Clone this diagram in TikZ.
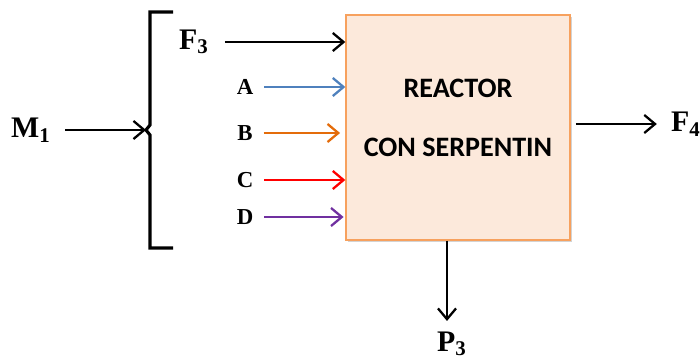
\documentclass[tikz,border=0pt]{standalone}
\usepackage{fontspec}
\setmainfont{Liberation Serif}
\newfontfamily\boxfont{Carlito}
\usepackage{xcolor}
\usetikzlibrary{arrows.meta,positioning,calc,shadows}

\definecolor{boxfill}{HTML}{FCE9DB}
\definecolor{boxline}{HTML}{F7A15E}
\definecolor{streamA}{HTML}{4F81BD}
\definecolor{streamB}{HTML}{E46C0A}
\definecolor{streamC}{HTML}{FF0000}
\definecolor{streamD}{HTML}{7030A0}

\begin{document}
\begin{tikzpicture}[
  x=0.02cm, y=-0.02cm,
  reactorbox/.style={draw=boxline, fill=boxfill, line width=0.8pt, minimum width=4.48cm, minimum height=4.5cm,
    drop shadow={opacity=0.35, shadow xshift=1.2pt, shadow yshift=-1.2pt}},
  rtext/.style={font=\boxfont\bfseries\fontsize{16}{18}\selectfont},
  slbl/.style={font=\bfseries\fontsize{17}{19}\selectfont, inner sep=1pt},
  clbl/.style={font=\bfseries\fontsize{13}{15}\selectfont, inner sep=1pt},
  flow/.style={line width=1.3pt, -{Straight Barb[angle=80:8pt, line width=1.3pt]}},
]

\useasboundingbox (0,0) rectangle (700,358);

\def\feedx{245}

% --- Reactor ---
\node[reactorbox] (reactor) at (458,127.5) {};
\node[rtext] (rtop) at (458,88) {REACTOR};
\node[rtext] (rbot) at (458,147) {CON SERPENTIN};

% --- Bracket ---
\coordinate (tip) at (146,130);
\draw[line width=1.8pt] (173,12) -- (150,12) -- (150,125) -- (tip) -- (150,135) -- (150,248) -- (173,248);

% --- Mix stream ---
\node[slbl] (m1) at (31,130) {M\textsubscript{1}};
\draw[flow, shorten <=7pt] (m1.east) -- (tip);

% --- Feeds ---
\node[slbl] (f3) at (194,42) {F\textsubscript{3}};
\draw[flow, shorten <=8pt] (f3.east) -- (f3.east -| reactor.west);

\node[clbl] (la) at (\feedx,87) {A};
\draw[flow, streamA, shorten <=5pt] (la.east) -- (la.east -| reactor.west);
\node[clbl] (lb) at (\feedx,133) {B};
\draw[flow, streamB, shorten <=5pt, shorten >=3pt] (lb.east) -- (lb.east -| reactor.west);
\node[clbl] (lc) at (\feedx,180) {C};
\draw[flow, streamC, shorten <=5pt] (lc.east) -- (lc.east -| reactor.west);
\node[clbl] (ld) at (\feedx,217) {D};
\draw[flow, streamD, shorten <=5pt, shorten >=1pt] (ld.east) -- (ld.east -| reactor.west);

% --- Outputs ---
\node[slbl] (f4) at (686,124) {F\textsubscript{4}};
\draw[flow, shorten <=3pt, shorten >=7pt] (reactor.east |- f4) -- (f4.west);

\node[slbl] (p3) at (452,344) {P\textsubscript{3}};
\draw[flow, shorten >=5pt] (reactor.south -| 447,0) -- (447,0 |- p3.north);

\end{tikzpicture}
\end{document}
